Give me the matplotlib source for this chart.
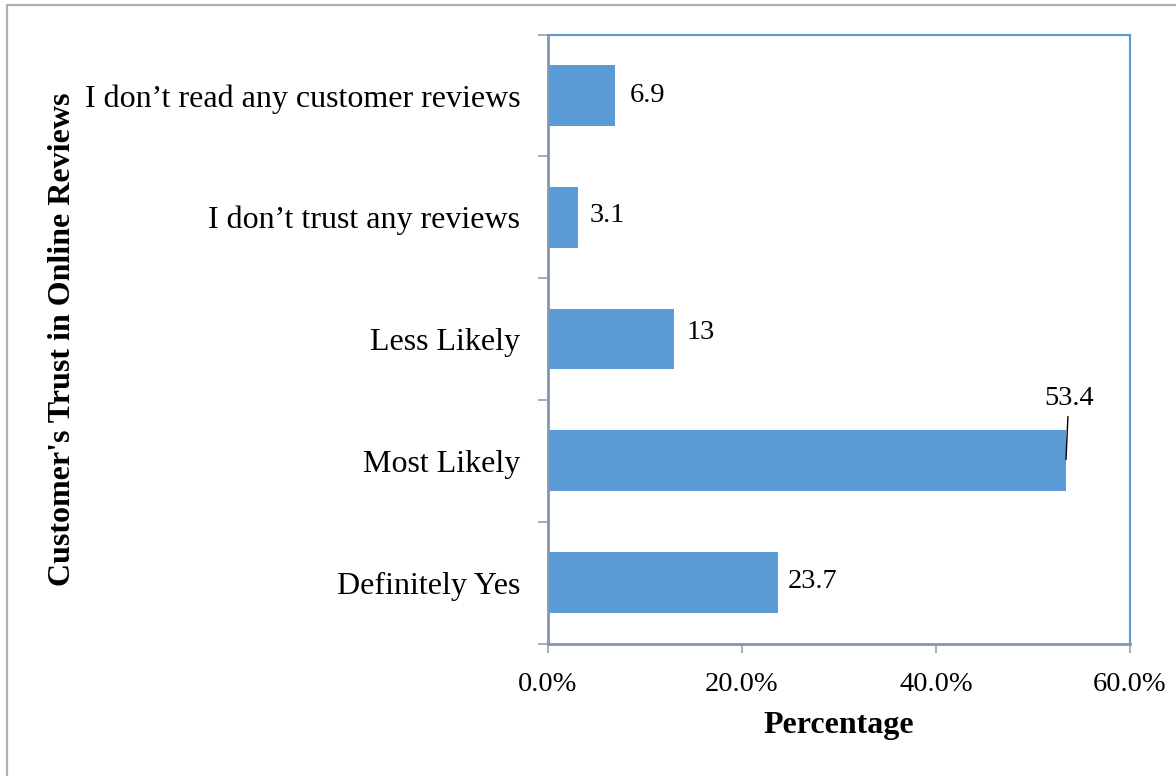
import matplotlib
matplotlib.use("Agg")
import matplotlib.pyplot as plt
from matplotlib.patches import Rectangle

# Survey responses: trust in online reviews (percent of respondents)
categories = [
    "Definitely Yes",
    "Most Likely",
    "Less Likely",
    "I don\u2019t trust any reviews",
    "I don\u2019t read any customer reviews",
]
values = [23.7, 53.4, 13, 3.1, 6.9]
value_labels = ["23.7", "53.4", "13", "3.1", "6.9"]
xticks = [0, 20, 40, 60]
xtick_labels = ["0.0%", "20.0%", "40.0%", "60.0%"]

plt.rcParams["font.family"] = ["Liberation Serif", "DejaVu Serif"]

BAR = "#5b9bd5"
AXIS_GRAY = "#8496ad"
TICK_GRAY = "#a6a6a6"

fig = plt.figure(figsize=(11.76, 7.76), dpi=100)
ax_bottom = 1 - 643.5 / 776
ax_height = (643.5 - 34.5) / 776
ax = fig.add_axes([548 / 1176, ax_bottom, (1130 - 548) / 1176, ax_height])

ypos = list(range(len(categories)))
ax.barh(ypos, values, height=0.5, color=BAR, zorder=2)

ax.set_xlim(0, 60)
ax.set_ylim(-0.5, len(categories) - 0.5)

ax.set_xticks(xticks)
ax.set_xticklabels(xtick_labels, fontsize=20.5)
ax.set_yticks(ypos)
ax.set_yticklabels(categories, fontsize=23)
ax.tick_params(axis="y", length=0, pad=20)
ax.set_yticks([i - 0.5 for i in range(len(categories) + 1)], minor=True)
ax.tick_params(axis="y", which="minor", length=7, color=TICK_GRAY, width=1.3)
ax.tick_params(axis="x", length=6.5, color=TICK_GRAY, width=1.3, pad=14)

for side in ("left", "bottom"):
    ax.spines[side].set_color(AXIS_GRAY)
    ax.spines[side].set_linewidth(2)
for side in ("top", "right"):
    ax.spines[side].set_color(BAR)
    ax.spines[side].set_linewidth(1.5)

ax.set_xlabel("Percentage", fontsize=23, fontweight="bold", labelpad=10)
ax.set_ylabel("Customer's Trust in Online Reviews", fontsize=23, fontweight="bold")
ax.yaxis.set_label_coords(77 / 1176, ax_bottom + ax_height / 2, transform=fig.transFigure)

# value labels placed just right of each bar
offsets = {0: (7, 1), 2: (9, 5), 3: (8, 1), 4: (11, 0)}
for i, (v, lab) in enumerate(zip(values, value_labels)):
    if i == 1:
        ax.annotate(lab, xy=(v, i + 0.01), xytext=(2, 35), textcoords="offset points",
                    fontsize=20.5, ha="center", va="bottom",
                    arrowprops=dict(arrowstyle="-", color="black", lw=1,
                                    shrinkA=2, shrinkB=0))
    else:
        dx, dy = offsets[i]
        ax.annotate(lab, xy=(v, i), xytext=(dx, dy), textcoords="offset points",
                    fontsize=20.5, ha="left", va="center")

# outer frame of the chart object
fig.patches.append(Rectangle((6.5 / 1176, -0.1), 1.2, 1.1 - 5.5 / 776, fill=False,
                             edgecolor="#b0b0b0", linewidth=1.6,
                             transform=fig.transFigure, figure=fig))

fig.savefig("out.png", dpi=100)
